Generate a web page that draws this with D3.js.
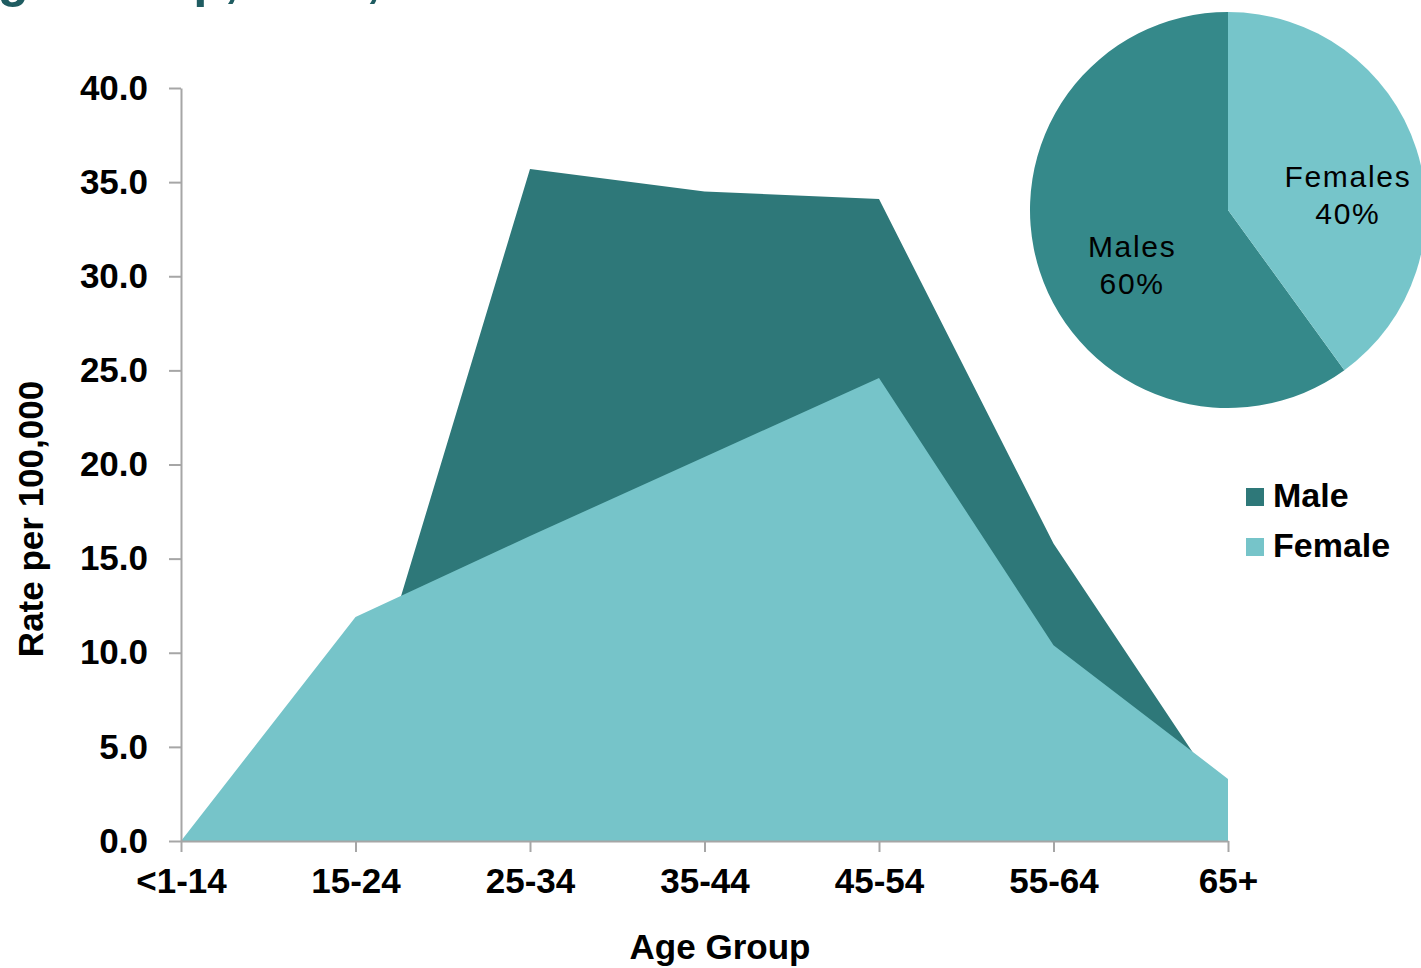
<!DOCTYPE html>
<html>
<head>
<meta charset="utf-8">
<script src="https://cdn.jsdelivr.net/npm/d3@7/dist/d3.min.js"></script>
<style>
  html, body { margin: 0; padding: 0; background: #ffffff; }
  svg { display: block; }
  text { font-family: "Liberation Sans", Arial, sans-serif; }
</style>
</head>
<body>
<svg id="chart" width="1421" height="968"></svg>
<script>
// ---- data ----
const categories = ["<1-14", "15-24", "25-34", "35-44", "45-54", "55-64", "65+"];
const maleRates   = [0.0, 5.0, 35.7, 34.5, 34.1, 15.8, 1.9];
const femaleRates = [0.0, 11.9, 16.2, 20.4, 24.6, 10.4, 3.3];
const yTicks = [0, 5, 10, 15, 20, 25, 30, 35, 40];
const seriesNames = ["Male", "Female"];
const pieNames = ["Males", "Females"];
const pieShares = [60, 40];
const titleText = "Age Group, 2013, Texas";
const xTitle = "Age Group";
const yTitle = "Rate per 100,000";

// ---- styles ----
const areaColors = { Male: "#2E7879", Female: "#76C4C9" };
const pieColors = { Males: "#35898A", Females: "#76C5CA" };
const axisColor = "#A6A6A6";

const svg = d3.select("#chart");

// partially visible title at top (cut off in the original too)
svg.append("text")
  .attr("x", -39).attr("y", -4)
  .attr("font-size", 51).attr("font-weight", "bold")
  .attr("fill", "#1F5C61")
  .text(titleText);

const x = d3.scalePoint().domain(categories).range([181, 1228]);
const y = d3.scaleLinear().domain([0, 40]).range([841, 88]);

const maleData = categories.map((c, i) => ({ c, v: maleRates[i] }));
const femaleData = categories.map((c, i) => ({ c, v: femaleRates[i] }));

const area = d3.area()
  .x(d => x(d.c))
  .y0(y(0))
  .y1(d => y(d.v));

svg.append("path").datum(maleData)
  .attr("d", area).attr("fill", areaColors.Male);
svg.append("path").datum(femaleData)
  .attr("d", area).attr("fill", areaColors.Female);

// y axis
const yAxis = svg.append("g")
  .attr("transform", `translate(${x(categories[0])},0)`)
  .call(d3.axisLeft(y).tickValues(yTicks).tickFormat(d3.format(".1f"))
    .tickSize(12).tickSizeOuter(0).tickPadding(21));
// x axis
const xAxis = svg.append("g")
  .attr("transform", `translate(0,${y(0)})`)
  .call(d3.axisBottom(x).tickSize(11).tickSizeOuter(0).tickPadding(16));

[yAxis, xAxis].forEach(g => {
  g.select(".domain").attr("stroke", axisColor).attr("stroke-width", 2);
  g.selectAll(".tick line").attr("stroke", axisColor).attr("stroke-width", 2);
  g.selectAll(".tick text")
    .attr("fill", "#000").attr("font-size", 35).attr("font-weight", "bold")
    .style("font-family", '"Liberation Sans", Arial, sans-serif');
});

// axis titles
svg.append("text")
  .attr("x", 720).attr("y", 959)
  .attr("text-anchor", "middle")
  .attr("font-size", 35).attr("font-weight", "bold")
  .text(xTitle);

svg.append("text")
  .attr("transform", `translate(43,519) rotate(-90)`)
  .attr("text-anchor", "middle")
  .attr("font-size", 35).attr("font-weight", "bold")
  .text(yTitle);

// legend
const legend = svg.append("g").attr("transform", "translate(1246,488)");
seriesNames.forEach((name, i) => {
  const g = legend.append("g").attr("transform", `translate(0,${i * 50})`);
  g.append("rect").attr("width", 18).attr("height", 18).attr("fill", areaColors[name]);
  g.append("text").attr("x", 27).attr("y", 19)
    .attr("font-size", 34).attr("font-weight", "bold").text(name);
});

// pie
const cx = 1228, cy = 210, r = 198;
const total = d3.sum(pieShares);
const start = -2 * Math.PI * pieShares[0] / total;
const pie = d3.pie().sort(null).value(d => d.v)
  .startAngle(start).endAngle(start + 2 * Math.PI);
const pieData = pie(pieNames.map((n, i) => ({ n, v: pieShares[i] })));
const arc = d3.arc().innerRadius(0).outerRadius(r);
const pg = svg.append("g").attr("transform", `translate(${cx},${cy})`);
pg.selectAll("path").data(pieData).join("path")
  .attr("d", arc).attr("fill", d => pieColors[d.data.n]);

// label placement (Excel best fit): angle shift and radius per slice
const labelShift = { Males: -11.4, Females: 10.4 };
const labelRadius = { Males: 110, Females: 121 };
pieData.forEach(d => {
  const mid = (d.startAngle + d.endAngle) / 2 + labelShift[d.data.n] * Math.PI / 180;
  const lr = labelRadius[d.data.n];
  const lx = lr * Math.sin(mid), ly = -lr * Math.cos(mid);
  const t = pg.append("text")
    .attr("text-anchor", "middle")
    .attr("font-size", 30).attr("letter-spacing", "1.7px")
    .attr("fill", "#000");
  t.append("tspan").attr("x", lx).attr("y", ly - 7).text(d.data.n);
  t.append("tspan").attr("x", lx).attr("y", ly + 30).text(d.data.v + "%");
});
</script>
</body>
</html>
